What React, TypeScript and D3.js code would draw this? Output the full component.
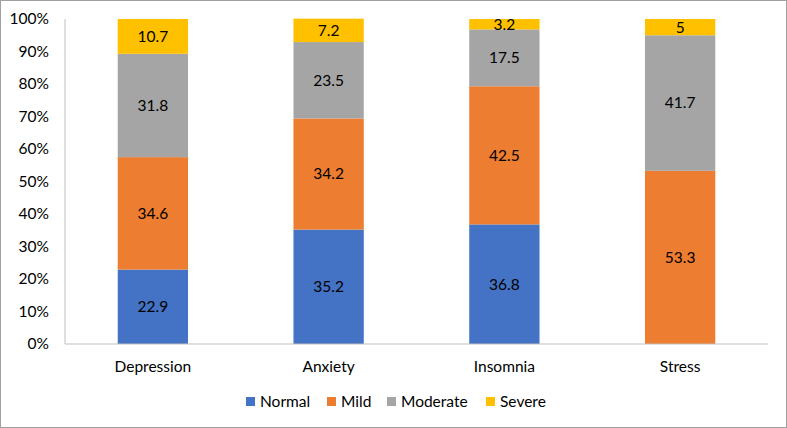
import React from 'react';
import * as d3 from 'd3';

const categories = ['Depression', 'Anxiety', 'Insomnia', 'Stress'];
const seriesNames = ['Normal', 'Mild', 'Moderate', 'Severe'];
const normal = [22.9, 35.2, 36.8, 0];
const mild = [34.6, 34.2, 42.5, 53.3];
const moderate = [31.8, 23.5, 17.5, 41.7];
const severe = [10.7, 7.2, 3.2, 5];
const colors = ['#4472C4', '#ED7D31', '#A5A5A5', '#FFC000'];
const yTicks = [0, 10, 20, 30, 40, 50, 60, 70, 80, 90, 100];

const W = 787;
const H = 428;
const margin = { top: 19, right: 19, bottom: 84, left: 65 };
const font = 'Lato, "Open Sans", sans-serif';
const fs = 15.5;

const App = () => {
    const series = [normal, mild, moderate, severe];

    const rows = categories.map((c, i) => {
        const row: any = { category: c };
        seriesNames.forEach((s, j) => { row[s] = series[j][i]; });
        return row;
    });

    const stacked = d3.stack().keys(seriesNames)(rows);

    const x = d3.scaleBand()
        .domain(categories)
        .range([margin.left, W - margin.right])
        .paddingInner(0.6)
        .paddingOuter(0.3);

    const y = d3.scaleLinear()
        .domain([0, 100])
        .range([H - margin.bottom, margin.top]);

    const legendX = [246, 327, 387, 486];

    return (
        <svg width={W} height={H} style={{ position: 'absolute', left: 0, top: 0, fontFamily: font }}>
            <rect x={0.5} y={0.5} width={W - 1} height={H - 1} fill="#fff" stroke="#A0A0A0" />

            {/* y axis line */}
            <line x1={margin.left} x2={margin.left} y1={y(100)} y2={y(0)} stroke="#BFBFBF" />

            {yTicks.map(t => (
                <text key={t} x={49} y={y(t)} dy="0.35em" textAnchor="end" fontSize={fs} fill="#000">
                    {t}%
                </text>
            ))}

            {stacked.map((layer, j) => (
                <g key={layer.key}>
                    {layer.map((d, i) => {
                        const h = y(d[0]) - y(d[1]);
                        if (h <= 0) return null;
                        return (
                            <g key={i}>
                                <rect
                                    x={x(categories[i])}
                                    y={y(d[1])}
                                    width={x.bandwidth()}
                                    height={h}
                                    fill={colors[j]}
                                />
                                <text
                                    x={(x(categories[i]) as number) + x.bandwidth() / 2}
                                    y={(y(d[0]) + y(d[1])) / 2}
                                    dy="0.35em"
                                    textAnchor="middle"
                                    fontSize={fs}
                                    fill="#000"
                                >
                                    {series[j][i]}
                                </text>
                            </g>
                        );
                    })}
                </g>
            ))}

            {/* baseline */}
            <line x1={margin.left} x2={W - margin.right} y1={y(0)} y2={y(0)} stroke="#BFBFBF" />

            {categories.map(c => (
                <text key={c} x={(x(c) as number) + x.bandwidth() / 2} y={367} dy="0.35em" textAnchor="middle" fontSize={fs} fill="#000">
                    {c}
                </text>
            ))}

            {seriesNames.map((s, j) => (
                <g key={s}>
                    <rect x={legendX[j]} y={397} width={9} height={9} fill={colors[j]} />
                    <text x={legendX[j] + 14} y={402} dy="0.35em" fontSize={fs} fill="#000">{s}</text>
                </g>
            ))}
        </svg>
    );
};

export default App;
